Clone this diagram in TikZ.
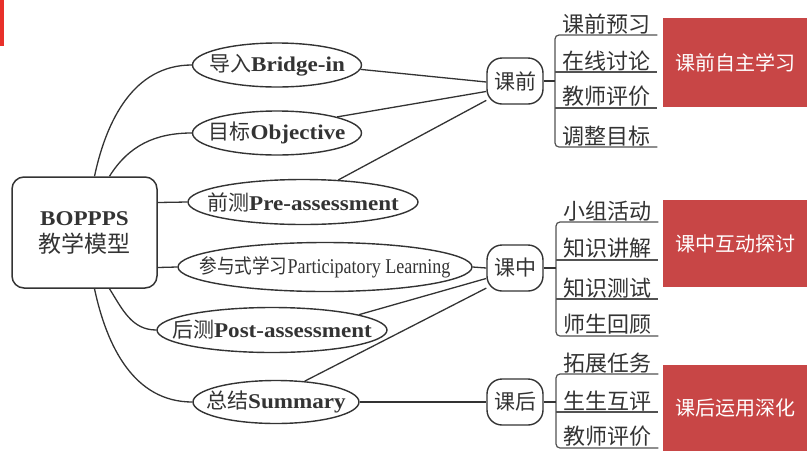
\documentclass[tikz,border=0pt]{standalone}
\usepackage{fontspec}
\setmainfont{Liberation Serif}
\newfontfamily\cjk{Noto Sans CJK SC}
\newfontfamily\cjknarrow[FakeStretch=0.88]{Noto Sans CJK SC}
\newfontfamily\latnarrow[FakeStretch=0.86]{Liberation Serif}
\newfontfamily\latwide[FakeStretch=1.1]{Liberation Serif}
\usepackage{tikz}
\usetikzlibrary{positioning,shapes.geometric}
\definecolor{inkgray}{HTML}{333333}
\definecolor{goalred}{HTML}{C84646}
\definecolor{markred}{HTML}{E8302A}
% zero-width label so the ellipse keeps its own size
\newcommand{\stagelabel}[2]{\makebox[0pt]{{\cjk #1}{\latwide\bfseries #2}}}

\begin{document}
\begin{tikzpicture}[x=1pt, y=1pt,
    % --- node styles ---
    hub/.style={
      rectangle, rounded corners=12pt, draw=inkgray, line width=1.5pt,
      minimum width=145pt, minimum height=111pt, inner sep=0pt,
      align=center, text=inkgray, font=\fontsize{21}{27}\selectfont},
    stage/.style={
      ellipse, draw=inkgray, line width=1.4pt, inner sep=0pt,
      text=inkgray, font=\fontsize{21}{21}\selectfont},
    phase/.style={
      rectangle, rounded corners=15pt, draw=inkgray, line width=1.4pt,
      minimum width=56pt, minimum height=46pt, inner sep=0pt,
      text=inkgray, font=\cjk\fontsize{21}{21}\selectfont},
    task/.style={
      minimum width=102pt, inner sep=1pt, anchor=south west,
      text=inkgray, font=\cjk\fontsize{22}{22}\selectfont},
    goal/.style={
      rectangle, fill=goalred, minimum width=144pt, inner sep=0pt,
      text=white, font=\cjk\fontsize{20}{20}\selectfont},
    link/.style={draw=inkgray, line width=1.3pt},
    rule/.style={draw=inkgray!85, line width=1.2pt},
  ]
  \useasboundingbox (0,0) rectangle (807,-451);

  % ============== CORNER MARK ==============
  \fill[markred] (0,0) rectangle (4,-46);

  % ============== MODEL (left) ==============
  \node[hub] (hub) at (84.5,-232.5)
    {{\latwide\bfseries BOPPPS}\\{\cjk\fontsize{23}{27}\selectfont 教学模型}};

  % ============== SIX STAGES (ellipses) ==============
  \node[stage, minimum width=169pt, minimum height=44pt] (bridge) at (277,-65)
    {\stagelabel{导入}{Bridge-in}};
  \node[stage, minimum width=169pt, minimum height=44pt] (objective) at (277,-133)
    {\stagelabel{目标}{Objective}};
  \node[stage, minimum width=230pt, minimum height=45pt] (preassess) at (303,-202)
    {\stagelabel{前测}{Pre-assessment}};
  \node[stage, minimum width=294pt, minimum height=49pt] (particip) at (325,-267)
    {\makebox[0pt]{{\cjknarrow\fontsize{20}{20}\selectfont 参与式学习}{\latnarrow Participatory Learning}}};
  \node[stage, minimum width=230pt, minimum height=45pt] (postassess) at (272,-330)
    {\stagelabel{后测}{Post-assessment}};
  \node[stage, minimum width=166pt, minimum height=43pt] (summary) at (276,-402)
    {\stagelabel{总结}{Summary}};

  % ============== PHASES ==============
  \node[phase] (before) at (515,-81)  {课前};
  \node[phase] (during) at (515,-268) {课中};
  \node[phase] (after)  at (515,-402) {课后};

  % ============== TASK LISTS ==============
  \node[task] (before1) at (555,-35)  {课前预习};
  \node[task] (before2) at (555,-72)  {在线讨论};
  \node[task] (before3) at (555,-108) {教师评价};
  \node[task] (before4) at (555,-147) {调整目标};

  \node[task] (during1) at (556,-222) {小组活动};
  \node[task] (during2) at (556,-260) {知识讲解};
  \node[task] (during3) at (556,-299) {知识测试};
  \node[task] (during4) at (556,-336) {师生回顾};

  \node[task] (after1) at (556,-374) {拓展任务};
  \node[task] (after2) at (556,-412) {生生互评};
  \node[task] (after3) at (556,-448) {教师评价};

  % ============== GOALS (right) ==============
  \node[goal, minimum height=89pt] (goalbefore) at (735,-62.5)  {课前自主学习};
  \node[goal, minimum height=87pt] (goalduring) at (735,-243.5) {课中互动探讨};
  \node[goal, minimum height=86pt] (goalafter)  at (735,-408)   {课后运用深化};

  % ============== LINKS: model to stages ==============
  \draw[link] ([xshift=10pt]hub.north) to[out=78,in=180] (bridge.west);
  \draw[link] ([xshift=25pt]hub.north) to[out=58,in=180] (objective.west);
  \draw[link] ([yshift=30pt]hub.east)  -- (preassess.west);
  \draw[link] ([yshift=-35pt]hub.east) -- (particip.west);
  \draw[link] ([xshift=25pt]hub.south) to[out=-58,in=180] (postassess.west);
  \draw[link] ([xshift=10pt]hub.south) to[out=-78,in=180] (summary.west);

  % ============== LINKS: stages to phases ==============
  \draw[link] (bridge.-3)     -- (before.182);
  \draw[link] (objective.15)  -- (before.200);
  \draw[link] (preassess.32)  -- (before.214);
  \draw[link] (particip.east) -- (during.west);
  \draw[link] (postassess.10) -- (during.200);
  \draw[link] (summary.36)    -- (during.215);
  \draw[link] (summary.east)  -- (after.west);

  % ============== BRACKETS ==============
  \draw[rule, rounded corners=4pt] (before1.south east) -- (before1.south west)
    -- (before4.south west) -- (before4.south east);
  \draw[rule] (before2.south west) -- (before2.south east);
  \draw[rule] (before3.south west) -- (before3.south east);
  \draw[link] (before.east) -- (before.east -| before1.south west);

  \draw[rule, rounded corners=4pt] (during1.south east) -- (during1.south west)
    -- (during4.south west) -- (during4.south east);
  \draw[rule] (during2.south west) -- (during2.south east);
  \draw[rule] (during3.south west) -- (during3.south east);
  \draw[link] (during.east) -- (during.east -| during1.south west);

  \draw[rule, rounded corners=4pt] (after1.south east) -- (after1.south west)
    -- (after3.south west) -- (after3.south east);
  \draw[rule] (after2.south west) -- (after2.south east);
  \draw[link] (after.east) -- (after.east -| after1.south west);

\end{tikzpicture}
\end{document}
